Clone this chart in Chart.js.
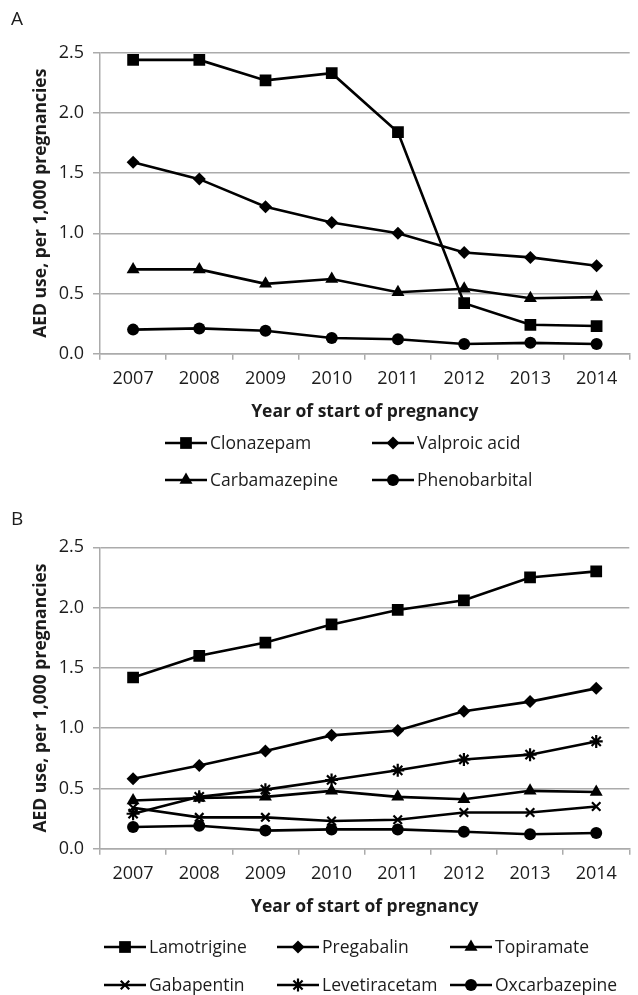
<!DOCTYPE html>
<html>
<head>
<meta charset="utf-8">
<title>AED use per 1,000 pregnancies</title>
<script src="https://cdn.jsdelivr.net/npm/chart.js"></script>
<style>
  html, body { margin: 0; padding: 0; background: #ffffff; }
  #wrap { position: relative; width: 638px; height: 995px; overflow: hidden; }
  .panel { position: absolute; left: 0; width: 638px; }
  #panelA { top: 0; height: 500px; }
  #panelB { top: 500px; height: 495px; }
</style>
</head>
<body>
<div id="wrap">
  <div class="panel" id="panelA"><canvas id="chartA"></canvas></div>
  <div class="panel" id="panelB"><canvas id="chartB"></canvas></div>
</div>
<script>
// Chart data
const years = ['2007', '2008', '2009', '2010', '2011', '2012', '2013', '2014'];
const yMin = 0;
const yMax = 2.5;
const yStep = 0.5;
const xTitle = 'Year of start of pregnancy';
const yTitle = 'AED use, per 1,000 pregnancies';

// Panel A
const clonazepam    = [2.44, 2.44, 2.27, 2.33, 1.84, 0.42, 0.24, 0.23];
const valproicAcid  = [1.59, 1.45, 1.22, 1.09, 1.00, 0.84, 0.80, 0.73];
const carbamazepine = [0.70, 0.70, 0.58, 0.62, 0.51, 0.54, 0.46, 0.47];
const phenobarbital = [0.20, 0.21, 0.19, 0.13, 0.12, 0.08, 0.09, 0.08];

// Panel B
const lamotrigine   = [1.42, 1.60, 1.71, 1.86, 1.98, 2.06, 2.25, 2.30];
const pregabalin    = [0.58, 0.69, 0.81, 0.94, 0.98, 1.14, 1.22, 1.33];
const topiramate    = [0.40, 0.42, 0.43, 0.48, 0.43, 0.41, 0.48, 0.47];
const gabapentin    = [0.34, 0.26, 0.26, 0.23, 0.24, 0.30, 0.30, 0.35];
const levetiracetam = [0.29, 0.43, 0.49, 0.57, 0.65, 0.74, 0.78, 0.89];
const oxcarbazepine = [0.18, 0.19, 0.15, 0.16, 0.16, 0.14, 0.12, 0.13];

const FONT = '"Open Sans", "DejaVu Sans", sans-serif';
const textColor = '#1c1c1c';
const gridColor = '#ababab';
const lineColor = '#000000';

// marker look per point style
const markerSize = {
    rect: 8.3,
    rectRot: 6.5,
    triangle: 7.5,
    circle: 6,
    crossRot: 6,
    star: 6.5
};

function makeDataset(label, data, pointStyle) {
    const isLine = pointStyle === 'crossRot' || pointStyle === 'star';
    return {
        label: label,
        data: data,
        borderColor: lineColor,
        backgroundColor: lineColor,
        borderWidth: 2.6,
        tension: 0,
        fill: false,
        pointStyle: pointStyle,
        pointRadius: markerSize[pointStyle],
        pointBackgroundColor: lineColor,
        pointBorderColor: lineColor,
        pointBorderWidth: isLine ? 2.2 : 0
    };
}

// letter + two-row legend drawn straight onto the canvas
function decorPlugin(letter, legendCols, legendRows) {
    return {
        id: 'decor',
        afterDraw(chart) {
            const ctx = chart.ctx;
            ctx.save();
            ctx.fillStyle = textColor;
            ctx.textBaseline = 'middle';
            ctx.textAlign = 'left';
            ctx.font = '19px ' + FONT;
            ctx.fillText(letter, 11, 20);

            ctx.font = '17.5px ' + FONT;
            chart.data.datasets.forEach((ds, i) => {
                const col = i % legendCols.length;
                const row = Math.floor(i / legendCols.length);
                const x = legendCols[col];
                const y = legendRows[row];

                ctx.strokeStyle = lineColor;
                ctx.lineWidth = 2.6;
                ctx.beginPath();
                ctx.moveTo(x, y);
                ctx.lineTo(x + 42, y);
                ctx.stroke();

                ctx.fillStyle = lineColor;
                ctx.lineWidth = ds.pointBorderWidth || 1;
                Chart.helpers.drawPoint(ctx, {
                    pointStyle: ds.pointStyle,
                    radius: ds.pointRadius,
                    rotation: 0,
                    borderWidth: ds.pointBorderWidth
                }, x + 21, y);

                ctx.fillStyle = textColor;
                ctx.fillText(ds.label, x + 45, y + 1);
            });
            ctx.restore();
        }
    };
}

function buildOptions(topPad) {
    return {
        responsive: true,
        maintainAspectRatio: false,
        animation: false,
        events: [],
        layout: {
            padding: { top: topPad, right: 2, bottom: 72, left: 0 }
        },
        plugins: {
            legend: { display: false },
            tooltip: { enabled: false }
        },
        scales: {
            x: {
                type: 'category',
                offset: true,
                grid: {
                    offset: true,
                    drawOnChartArea: false,
                    drawTicks: true,
                    tickLength: 6,
                    color: gridColor,
                    lineWidth: 1.5
                },
                border: { display: true, color: gridColor, width: 1.5 },
                ticks: {
                    color: textColor,
                    font: { family: FONT, size: 18 },
                    padding: 8,
                    maxRotation: 0,
                    autoSkip: false
                },
                title: {
                    display: true,
                    text: xTitle,
                    color: textColor,
                    font: { family: FONT, size: 17.5, weight: 'bold' },
                    padding: { top: 0, bottom: 5 }
                },
                afterFit: function(scale) {
                    scale.height = 74.3;
                }
            },
            y: {
                min: yMin,
                max: yMax,
                grid: {
                    color: gridColor,
                    lineWidth: 1.5,
                    drawTicks: true,
                    tickLength: 7
                },
                border: { display: true, color: gridColor, width: 1.5 },
                ticks: {
                    stepSize: yStep,
                    color: textColor,
                    font: { family: FONT, size: 18 },
                    padding: 9,
                    callback: function(value) {
                        return Number(value).toFixed(1);
                    }
                },
                title: {
                    display: true,
                    text: yTitle,
                    color: textColor,
                    font: { family: FONT, size: 17.5, weight: 'bold' },
                    padding: { top: 31, bottom: 0 }
                },
                afterFit: function(scale) {
                    scale.width = 100;
                }
            }
        }
    };
}

// Panel A
new Chart(document.getElementById('chartA').getContext('2d'), {
    type: 'line',
    data: {
        labels: years,
        datasets: [
            makeDataset('Clonazepam', clonazepam, 'rect'),
            makeDataset('Valproic acid', valproicAcid, 'rectRot'),
            makeDataset('Carbamazepine', carbamazepine, 'triangle'),
            makeDataset('Phenobarbital', phenobarbital, 'circle')
        ]
    },
    options: buildOptions(52.7),
    plugins: [decorPlugin('A', [165, 372], [443, 480])]
});

// Panel B
new Chart(document.getElementById('chartB').getContext('2d'), {
    type: 'line',
    data: {
        labels: years,
        datasets: [
            makeDataset('Lamotrigine', lamotrigine, 'rect'),
            makeDataset('Pregabalin', pregabalin, 'rectRot'),
            makeDataset('Topiramate', topiramate, 'triangle'),
            makeDataset('Gabapentin', gabapentin, 'crossRot'),
            makeDataset('Levetiracetam', levetiracetam, 'star'),
            makeDataset('Oxcarbazepine', oxcarbazepine, 'circle')
        ]
    },
    options: buildOptions(47.3),
    plugins: [decorPlugin('B', [104, 277, 450], [447, 485])]
});
</script>
</body>
</html>
